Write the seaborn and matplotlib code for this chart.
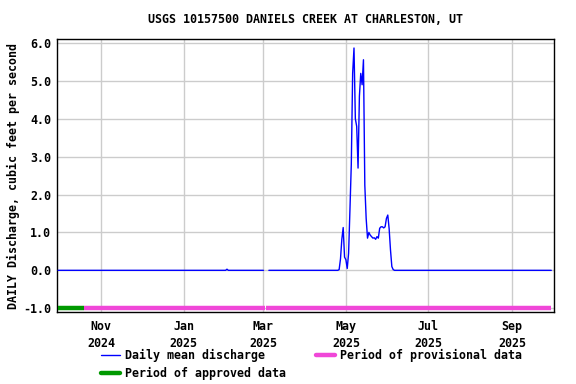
import pandas as pd
import matplotlib.pyplot as plt
from matplotlib.lines import Line2D
import seaborn as sns

# daily mean discharge, cfs (vertices)
seg1_dates = ["2024-09-30", "2025-02-01", "2025-02-02", "2025-02-03", "2025-03-01"]
seg1_cfs = [0.0, 0.0, 0.03, 0.0, 0.0]

seg2_dates = ["2025-03-05", "2025-04-25"] + [str(d.date()) for d in pd.date_range("2025-04-26", "2025-06-05")] + ["2025-06-06", "2025-09-30"]
seg2_cfs = [0.0, 0.0,
            0.02, 0.3, 0.82, 1.13, 0.35, 0.28, 0.05, 0.45, 1.6, 2.8,
            5.2, 5.87, 4.0, 3.8, 2.7, 4.6, 5.2, 4.9, 5.56, 2.25,
            1.37, 0.85, 1.0, 0.93, 0.89, 0.85, 0.86, 0.82, 0.89, 0.85,
            1.11, 1.15, 1.15, 1.12, 1.15, 1.37, 1.46, 1.1, 0.54, 0.1,
            0.02,
            0.0, 0.0]

approved = [("2024-09-30", "2024-10-19")]
provisional = [("2024-10-19", "2025-03-02"), ("2025-03-03", "2025-09-30")]

title = "USGS 10157500 DANIELS CREEK AT CHARLESTON, UT"
ylabel = "DAILY Discharge, cubic feet per second"
tick_dates = ["2024-11-01", "2025-01-01", "2025-03-01", "2025-05-01", "2025-07-01", "2025-09-01"]
tick_labels = ["Nov\n2024", "Jan\n2025", "Mar\n2025", "May\n2025", "Jul\n2025", "Sep\n2025"]

df = pd.concat([
    pd.DataFrame({"date": pd.to_datetime(seg1_dates), "cfs": seg1_cfs, "seg": 1}),
    pd.DataFrame({"date": pd.to_datetime(seg2_dates), "cfs": seg2_cfs, "seg": 2}),
])

sns.set_style("white")
plt.rcParams["font.family"] = ["DejaVu Sans Mono"]
plt.rcParams["font.weight"] = "bold"
plt.rcParams["text.color"] = "black"
plt.rcParams["axes.labelcolor"] = "black"
plt.rcParams["xtick.color"] = "black"
plt.rcParams["ytick.color"] = "black"
fs = 8.4

fig = plt.figure(figsize=(5.76, 3.84), dpi=100)
ax = fig.add_axes([56.7 / 576, 1 - 312 / 384, (554 - 56.7) / 576, (312 - 39.3) / 384])

blue = "#0000ff"
pink = "#f047d8"
green = "#009900"

sns.lineplot(data=df, x="date", y="cfs", units="seg", estimator=None, color=blue, lw=1, ax=ax, zorder=3)

for s, e in approved:
    ax.plot(pd.to_datetime([s, e]), [-1, -1], color=green, lw=3.2, solid_capstyle="butt", zorder=4)
for s, e in provisional:
    ax.plot(pd.to_datetime([s, e]), [-1, -1], color=pink, lw=3.2, solid_capstyle="butt", zorder=4)

ax.set_xlim(pd.Timestamp("2024-09-29"), pd.Timestamp("2025-10-02"))
ax.set_ylim(-1.1, 6.1)
ax.set_yticks(range(-1, 7))
ax.set_yticklabels([f"{v:.1f}" for v in range(-1, 7)], fontsize=fs, fontweight="bold")
ax.set_xticks(pd.to_datetime(tick_dates))
ax.set_xticklabels(tick_labels, fontsize=fs, fontweight="bold", linespacing=1.4)
ax.tick_params(axis="both", length=0, colors="black")
ax.tick_params(axis="x", pad=6)
ax.tick_params(axis="y", pad=4)
ax.grid(True, color="#cccccc", lw=1)
ax.set_axisbelow(True)
for sp in ax.spines.values():
    sp.set_color("black")
    sp.set_linewidth(1)

ax.set_xlabel("")
ax.set_ylabel(ylabel, fontsize=fs, fontweight="bold", labelpad=2, color="black")
ax.set_title(title, fontsize=fs, fontweight="bold", pad=12, color="black")

handles = [
    Line2D([], [], color=blue, lw=1),
    Line2D([], [], color=green, lw=3.2),
    Line2D([], [], color=pink, lw=3.2),
]
labels = ["Daily mean discharge", "Period of approved data", "Period of provisional data"]
fig.legend(handles, labels, loc="upper left", bbox_to_anchor=(101 / 576, 1 - 349 / 384), ncol=2,
           frameon=False, handlelength=1.6, handletextpad=0.45, columnspacing=2.6,
           labelspacing=0.45, borderpad=0, borderaxespad=0, prop={"weight": "bold", "size": fs})

fig.savefig("out.png", dpi=100)
